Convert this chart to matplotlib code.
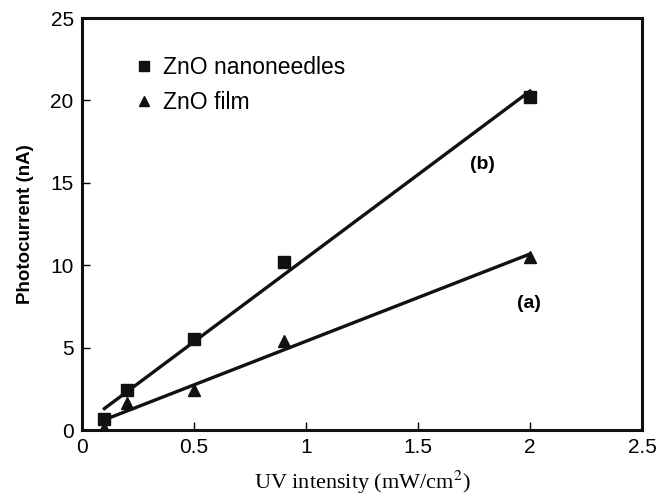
import numpy as np
import matplotlib
matplotlib.use('Agg')
import matplotlib.pyplot as plt

plt.rcParams['font.family'] = ['Liberation Sans', 'DejaVu Sans']
plt.rcParams['mathtext.fontset'] = 'stix'

# data
uv = [0.1, 0.2, 0.5, 0.9, 2.0]
needles = [0.65, 2.4, 5.5, 10.2, 20.2]
film = [0.1, 1.65, 2.4, 5.4, 10.5]

fig = plt.figure(figsize=(6.58, 4.95), dpi=100)
ax = fig.add_axes([0.1246, 0.1313, 0.8511, 0.8323])

# linear fits
xf = np.array([uv[0], uv[-1]])
for ys in (needles, film):
    k, b = np.polyfit(uv, ys, 1)
    ax.plot(xf, k * xf + b, color='#111111', lw=2.4, zorder=2)

ax.plot(uv, needles, 's', color='#111111', ms=8, label='ZnO nanoneedles', zorder=3)
ax.plot(uv, film, '^', color='#111111', ms=8, label='ZnO film', zorder=3)

ax.text(1.786, 16.1, '(b)', fontsize=14, fontweight='bold', ha='center', va='center')
ax.text(1.996, 7.7, '(a)', fontsize=14, fontweight='bold', ha='center', va='center')

ax.legend(loc='center left', bbox_to_anchor=(0.098, 0.837), frameon=False,
          fontsize=16.5, handlelength=0.6, handletextpad=0.55, labelspacing=0.5,
          markerscale=0.9, borderaxespad=0, borderpad=0)

ax.set_xlim(0, 2.5)
ax.set_ylim(0, 25)
ax.set_xticks([0, 0.5, 1, 1.5, 2, 2.5])
ax.set_xticklabels(['0', '0.5', '1', '1.5', '2', '2.5'])
ax.set_yticks([0, 5, 10, 15, 20, 25])
ax.tick_params(direction='in', length=6, width=1, labelsize=15, pad=6)
for s in ax.spines.values():
    s.set_linewidth(2.2)
    s.set_color('#111111')

ax.set_xlabel('UV intensity (mW/cm$^2$)', family='Liberation Serif', fontsize=16, labelpad=8)
ax.set_ylabel('Photocurrent (nA)', fontsize=13.5, fontweight='bold', labelpad=12)

plt.savefig('out.png', dpi=100)
